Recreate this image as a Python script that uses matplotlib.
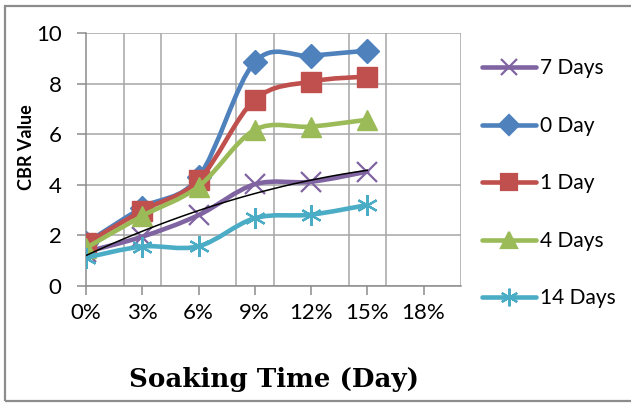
import numpy as np
import matplotlib
matplotlib.use('Agg')
import matplotlib.pyplot as plt
from matplotlib.path import Path
from matplotlib.patches import PathPatch, Rectangle
from matplotlib.lines import Line2D

plt.rcParams['font.family'] = ['Lato', 'DejaVu Sans']

# 浸泡时间 (%) 与 CBR 值
soak = [0, 3, 6, 9, 12, 15]
tick_pos = [0, 3, 6, 9, 12, 15, 18]
tick_labels = ['0%', '3%', '6%', '9%', '12%', '15%', '18%']

cbr_7d = [1.35, 1.95, 2.8, 4.02, 4.12, 4.52]
cbr_0d = [1.7, 3.1, 4.3, 8.85, 9.1, 9.3]
cbr_1d = [1.68, 2.98, 4.18, 7.36, 8.08, 8.28]
cbr_4d = [1.5, 2.77, 3.93, 6.17, 6.3, 6.57]
cbr_14d = [1.12, 1.56, 1.57, 2.68, 2.82, 3.2]

series = [
    ('7 Days', cbr_7d, '#8064A2', 'x'),
    ('0 Day', cbr_0d, '#4F81BD', 'D'),
    ('1 Day', cbr_1d, '#C0504D', 's'),
    ('4 Days', cbr_4d, '#9BBB59', '^'),
    ('14 Days', cbr_14d, '#4BACC6', (6, 2, 0)),
]
msize = {'x': 14, 'D': 12, 's': 14, '^': 14, (6, 2, 0): 15}


def smooth_path(x, y):
    # 平滑曲线: 分段三次贝塞尔 (Catmull-Rom)
    pts = np.column_stack([x, y]).astype(float)
    n = len(pts)
    verts = [pts[0]]
    codes = [Path.MOVETO]
    for i in range(n - 1):
        p0 = pts[i - 1] if i > 0 else pts[i]
        p1 = pts[i]
        p2 = pts[i + 1]
        p3 = pts[i + 2] if i + 2 < n else pts[i + 1]
        c1 = p1 + (p2 - p0) / 6.0
        c2 = p2 - (p3 - p1) / 6.0
        verts += [c1, c2, p2]
        codes += [Path.CURVE4] * 3
    return Path(verts, codes)


fig = plt.figure(figsize=(6.31, 4.03), dpi=100)
ax = fig.add_axes([86 / 631, 1 - 286 / 403, 375 / 631, 253 / 403])

# 外框
fig.patches.append(Rectangle((5 / 631, 2 / 403), 1.0, 1 - 8 / 403,
                             transform=fig.transFigure, fill=False,
                             edgecolor='#8C8C8C', lw=1.6, zorder=0))

handles = []
for k, (name, vals, col, mk) in enumerate(series):
    ax.add_patch(PathPatch(smooth_path(soak, vals), fill=False, edgecolor=col,
                           lw=3.3, capstyle='round', joinstyle='round', zorder=3 + k))
    if mk in ('x', (6, 2, 0)):
        ax.plot(soak, vals, ls='none', marker=mk, ms=msize[mk], mec=col, mew=1.6, zorder=3 + k)
    else:
        ax.plot(soak, vals, ls='none', marker=mk, ms=msize[mk], color=col, mec=col, zorder=3 + k)
    handles.append(Line2D([], [], color=col, lw=3.3, solid_capstyle='round', marker=mk,
                          ms=msize[mk] * 0.85, mec=col, mew=1.6))

# 7 Days 趋势线 (二次多项式)
coef = np.polyfit(soak, cbr_7d, 2)
xs = np.linspace(0, 15, 100)
ax.plot(xs, np.polyval(coef, xs), color='black', lw=1.1, zorder=9)

ax.set_xlim(0, 20)
ax.set_ylim(0, 10)
ax.set_xticks(tick_pos)
ax.set_xticklabels(tick_labels)
ax.set_xticks(np.arange(0, 21, 2), minor=True)
ax.set_yticks(np.arange(0, 11, 2))
ax.grid(False)
ax.grid(True, which='minor', axis='x', color='#A6A6A6', lw=1.1)
ax.grid(True, which='major', axis='y', color='#A6A6A6', lw=1.1)
ax.tick_params(axis='x', which='minor', length=0)
ax.tick_params(axis='both', which='major', direction='out', length=6.5, width=1.1,
               color='#8C8C8C', labelsize=16)
ax.tick_params(axis='x', which='major', pad=6)
ax.tick_params(axis='y', which='major', pad=11)
for s in ['top', 'right']:
    ax.spines[s].set_visible(False)
for s in ['left', 'bottom']:
    ax.spines[s].set_color('#8C8C8C')
    ax.spines[s].set_linewidth(1.1)

fig.text(27 / 631, 1 - 147 / 403, 'CBR Value', rotation=90, ha='center', va='center',
         fontsize=13, fontweight='bold')
fig.text(274 / 631, 1 - 380 / 403, 'Soaking Time (Day)', ha='center', va='center',
         fontsize=18.8, fontweight='bold', family=['DejaVu Serif'])

fig.legend(handles, [s[0] for s in series], loc='upper left',
           bbox_to_anchor=(472 / 631, 1 - 48 / 403), frameon=False, fontsize=15,
           handlelength=2.55, handletextpad=0.2, labelspacing=1.8, borderpad=0,
           numpoints=1)

fig.savefig('out.png', dpi=100)
